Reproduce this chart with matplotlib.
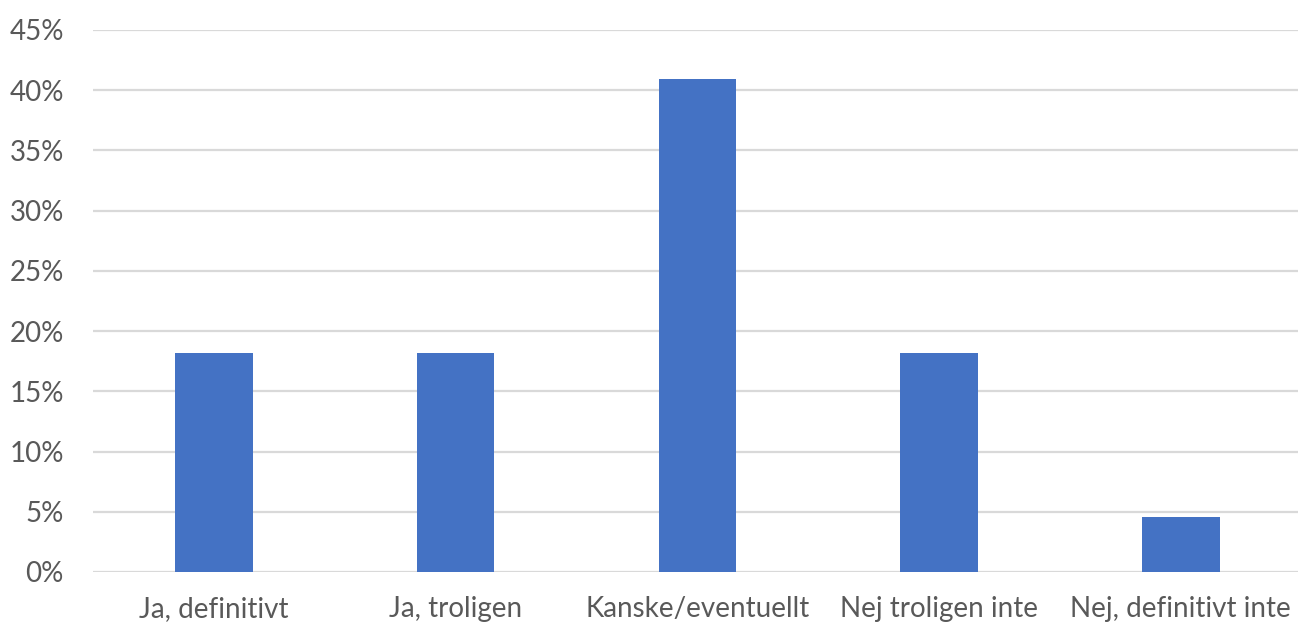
import matplotlib
matplotlib.use("Agg")
import matplotlib.pyplot as plt
from matplotlib.ticker import FuncFormatter, MultipleLocator

categories = ["Ja, definitivt", "Ja, troligen", "Kanske/eventuellt", "Nej troligen inte", "Nej, definitivt inte"]
values = [18.18, 18.18, 40.91, 18.18, 4.55]

plt.rcParams['font.family'] = ['Lato', 'DejaVu Sans']

fig = plt.figure(figsize=(12.98, 6.24), dpi=100)
ax = fig.add_axes([93/1298, 1 - 572/624, (1298-93)/1298, 542/624])

x = list(range(len(categories)))
ax.bar(x, values, width=0.32, color="#4472C4", zorder=3)

ax.set_ylim(0, 45)
ax.set_xlim(-0.5, 4.4845)
ax.yaxis.set_major_locator(MultipleLocator(5))
ax.yaxis.set_major_formatter(FuncFormatter(lambda v, p: f"{int(round(v))}%"))
ax.grid(axis="y", color="#D9D9D9", linewidth=1.6, zorder=0)
ax.set_xticks(x)
ax.set_xticklabels(categories)
for s in ax.spines.values():
    s.set_visible(False)
ax.tick_params(axis="both", length=0, labelsize=20, labelcolor="#595959")
ax.tick_params(axis="y", pad=21)
ax.tick_params(axis="x", pad=17)

fig.savefig("out.png", dpi=100)
